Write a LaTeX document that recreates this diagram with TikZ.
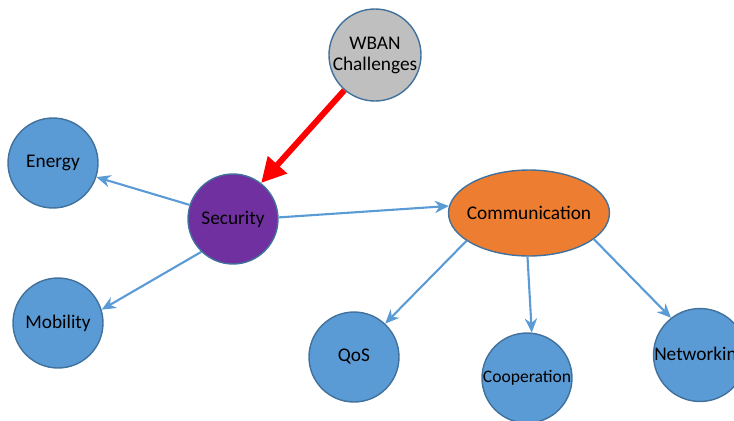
\documentclass[tikz,border=0pt]{standalone}
\usepackage{fontspec}
\setmainfont{Carlito}
\usepackage{tikz}
\usetikzlibrary{arrows.meta,positioning,shapes.geometric}

\definecolor{nodeblue}{HTML}{5B9BD5}
\definecolor{rimblue}{HTML}{41719C}
\definecolor{wbangray}{HTML}{BFBFBF}
\definecolor{secpurple}{HTML}{7030A0}
\definecolor{comorange}{HTML}{ED7D31}

\begin{document}
\begin{tikzpicture}[x=0.02cm,y=-0.02cm]
	\tikzset{topic/.style={circle,draw=rimblue,line width=0.8pt,fill=nodeblue,minimum size=1.8cm,inner sep=0pt,font=\fontsize{11}{13}\selectfont},
		link/.style={draw=nodeblue,line width=1.2pt,-{Stealth[length=8pt,width=7pt]}}}
	\useasboundingbox (0,0) rectangle (734,420);
	\node[topic,fill=wbangray,align=center] (wban) at (375,55) {WBAN\\[-1pt]Challenges};
	\node[topic] (energy) at (53,163) {Energy};
	\node[topic,fill=secpurple] (security) at (233,219) {Security};
	\node[topic] (mobility) at (58,323) {Mobility};
	\node[topic,ellipse,fill=comorange,inner xsep=-3pt,minimum width=3.2cm,minimum height=1.72cm] (comm) at (529,213) {Communication};
	\node[topic] (qos) at (354,357) {QoS};
	\node[topic,font=\fontsize{10}{12}\selectfont] (coop) at (527,378) {Cooperation};
	\node[topic] (net) at (700,355) {Networking};
	\path
		(security.162) edge[link] (energy.342)
		(security.226) edge[link] (mobility.17)
		(security.2) edge[link] (comm.175)
		(comm.204) edge[link] (qos.47)
		(comm.268) edge[link] (coop.84)
		(comm.338) edge[link] (net.128);
	\draw[red,line width=3.4pt,-{Triangle[length=14pt,width=14pt]}] (wban.229) -- (security.52);
\end{tikzpicture}
\end{document}
